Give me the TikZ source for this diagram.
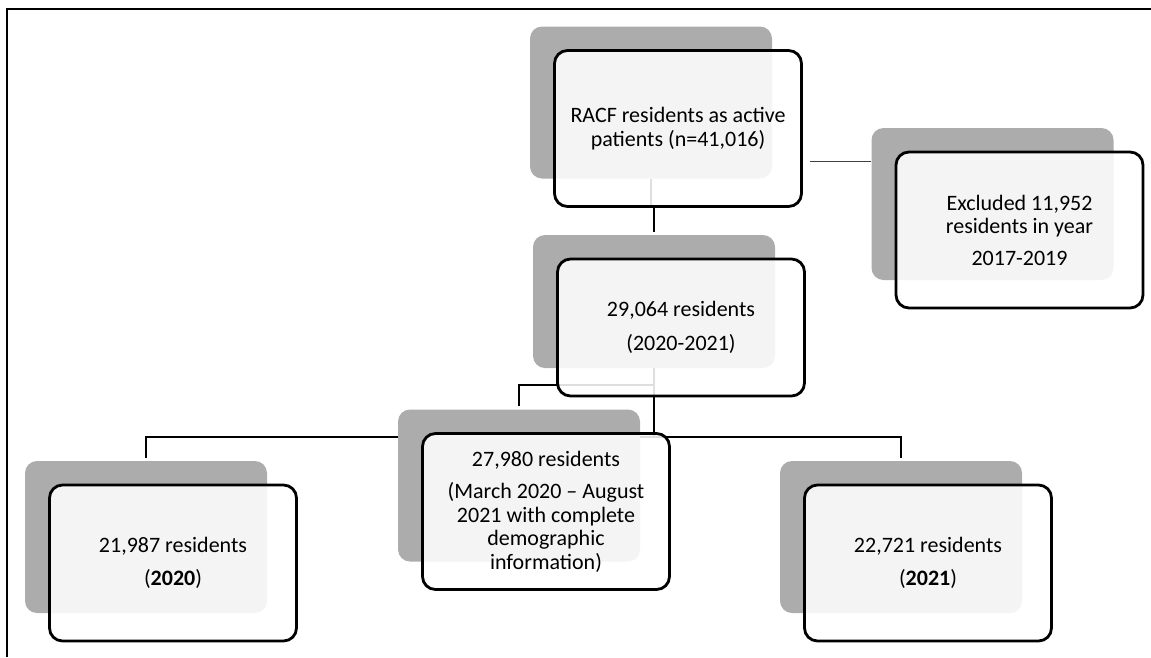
\documentclass[tikz,border=0pt]{standalone}
\usepackage{fontspec}
\setmainfont{Carlito}
\pgfdeclarelayer{bg}
\pgfsetlayers{bg,main}
\definecolor{backgray}{RGB}{172,172,172}

\begin{document}
\begin{tikzpicture}[x=1pt, y=-1pt,
back/.style={rectangle, rounded corners=12pt, fill=backgray, minimum width=242pt, minimum height=152pt},
front/.style={rectangle, rounded corners=13pt, draw, line width=2.8pt, fill=white, fill opacity=0.87, text opacity=1,
  minimum width=247pt, minimum height=156pt, align=center, font=\fontsize{22}{23.5}\selectfont},
link/.style={line width=2.5pt, shorten >=3pt},
thinlink/.style={line width=1.3pt, black!75},
]
\useasboundingbox (0,0) rectangle (1151,657);
\draw [line width=2.6pt] (7,657) -- (7,9) -- (1151,9);

%top box
\node (topb) [back] at (651,102.5) {};
\node (topf) [front] at ([shift={(27,26)}]topb.center) {RACF residents as active\\patients (n=41,016)};
%second level
\node (midb) [back, minimum height=133pt] at (654,301.5) {};
\node (midf) [front, minimum height=137pt] at ([shift={(27,26)}]midb.center) {29,064 residents\\[10pt](2020-2021)};
%excluded
\node (exclb) [back] at (992.5,204) {};
\node (exclf) [front] at ([shift={(27,26)}]exclb.center) {Excluded 11,952\\residents in year\\[8pt]2017-2019};
%third level
\node (asstb) [back] at (519,485.5) {};
\node (asstf) [front] at ([shift={(27,26)}]asstb.center) {27,980 residents\\[9pt](March 2020 -- August\\2021 with complete\\demographic\\information)};
\node (leftb) [back] at (146,537) {};
\node (leftf) [front] at ([shift={(27,26)}]leftb.center) {21,987 residents\\[10pt](\textbf{2020})};
\node (rightb) [back] at (901,537) {};
\node (rightf) [front] at ([shift={(27,26)}]rightb.center) {22,721 residents\\[10pt](\textbf{2021})};

\begin{pgfonlayer}{bg}
\coordinate (exclin) at ([yshift=-34pt]exclb.north west);
\draw [link] (topb.south) -- ++(0,28) -| (midb.north);
\draw [link] (midb.south) -- ++(0,17) -| (asstb.north);
\draw [link] (midb.south) -- ++(0,69) -| (leftb.north);
\draw [link] (midb.south) -- ++(0,69) -| (rightb.north);
\draw [thinlink, shorten >=7pt] (exclin) -- (exclin -| topf.east);
\end{pgfonlayer}
\end{tikzpicture}
\end{document}
